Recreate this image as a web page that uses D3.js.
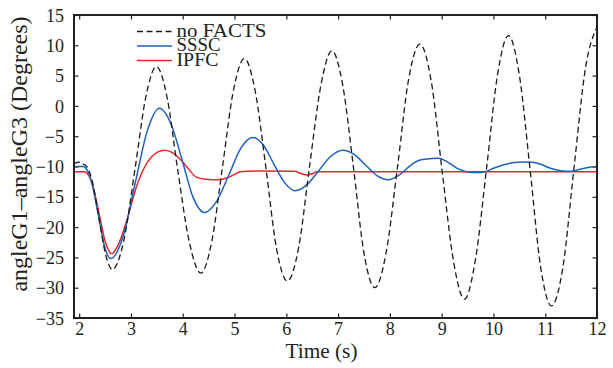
<!DOCTYPE html>
<html>
<head>
<meta charset="utf-8">
<script src="https://cdn.jsdelivr.net/npm/d3@7"></script>
<style>
  html, body { margin: 0; padding: 0; background: #fff; }
  svg { display: block; }
  text { font-family: "Liberation Serif", "Times New Roman", serif; fill: #231f20; }
</style>
</head>
<body>
<svg id="chart" width="613" height="368"></svg>
<script>
// ---- data ----
const xTicks = [2, 3, 4, 5, 6, 7, 8, 9, 10, 11, 12];
const yTicks = [-35, -30, -25, -20, -15, -10, -5, 0, 5, 10, 15];
const seriesNames = ["no FACTS", "SSSC", "IPFC"];

const noFactsT = [1.90, 2.00, 2.06, 2.12, 2.25, 2.38, 2.51, 2.64, 2.86, 3.08, 3.29, 3.49, 3.70, 3.90, 4.13, 4.35,
  4.56, 4.77, 4.98, 5.19, 5.40, 5.61, 5.81, 6.02, 6.24, 6.45, 6.67, 6.88, 7.09, 7.30, 7.50, 7.71,
  7.93, 8.15, 8.36, 8.58, 8.80, 9.01, 9.23, 9.44, 9.65, 9.87, 10.08, 10.29, 10.50, 10.71, 10.91, 11.12,
  11.34, 11.56, 11.78, 12.00];
const noFactsV = [-9.5, -9.3, -9.6, -9.8, -12.3, -18.4, -24.5, -27.0, -22.3, -10.3, 1.6, 6.5, 1.3, -10.4, -22.6, -27.6,
  -22.4, -9.9, 2.6, 7.8, 2.4, -10.5, -23.5, -28.9, -23.3, -9.9, 3.5, 9.1, 3.4, -10.4, -24.3, -30.0,
  -24.1, -9.9, 4.3, 10.2, 4.0, -10.8, -25.7, -31.9, -25.5, -10.1, 5.2, 11.6, 5.1, -10.7, -26.5, -33.0,
  -26.7, -9.9, 6.4, 13.0];

const ssscT = [1.90, 2.08, 2.13, 2.24, 2.37, 2.49, 2.61, 2.85, 3.08, 3.32, 3.55, 3.77, 3.99, 4.20, 4.42,
  4.65, 4.89, 5.12, 5.35, 5.56, 5.76, 5.97, 6.17, 6.40, 6.63, 6.86, 7.09, 7.31, 7.53, 7.75, 7.97,
  8.20, 8.40, 8.60, 8.80, 8.94, 9.10, 9.30, 9.50, 9.65, 9.85, 10.00, 10.20, 10.40, 10.60, 10.75, 10.90,
  11.10, 11.30, 11.50, 11.65, 11.80, 12.00];
const ssscV = [-10.0, -10.0, -10.3, -12.6, -18.0, -23.2, -25.2, -21.5, -12.8, -4.0, -0.4, -2.9, -9.0, -15.1, -17.6,
  -15.8, -11.4, -7.0, -5.2, -6.5, -9.6, -12.7, -14.0, -13.0, -10.65, -8.3, -7.3, -8.0, -9.75, -11.5, -12.2,
  -11.3, -9.8, -8.9, -8.7, -8.65, -9.2, -10.3, -10.9, -11.0, -10.85, -10.3, -9.7, -9.35, -9.25, -9.3, -9.6,
  -10.3, -10.7, -10.8, -10.5, -10.2, -10.0];

const ipfcT = [1.90, 2.10, 2.14, 2.25, 2.38, 2.51, 2.63, 2.75, 2.92, 3.10, 3.27, 3.40, 3.52, 3.65, 3.80, 3.95,
  4.10, 4.27, 4.45, 4.66, 4.85, 5.00, 5.11, 5.40, 6.15, 6.30, 6.40, 6.50, 6.59, 12.00];
const ipfcV = [-10.85, -10.85, -11.0, -12.8, -17.6, -22.6, -24.4, -23.0, -18.9, -13.5, -10.0, -8.4, -7.6, -7.3, -7.7, -8.8,
  -10.3, -11.8, -12.1, -12.2, -11.9, -11.3, -10.85, -10.75, -10.8, -11.2, -11.4, -11.2, -10.85, -10.85];

// ---- layout ----
const L = 74, R = 597, T = 15, B = 318;
const svg = d3.select("#chart");
const x = d3.scaleLinear().domain([1.9, 12]).range([L, R]);
const y = d3.scaleLinear().domain([-35, 15]).range([B, T]);

svg.append("defs").append("clipPath").attr("id", "clip")
  .append("rect").attr("x", L).attr("y", T).attr("width", R - L).attr("height", B - T);

// axes with inward ticks
const tickLen = 4.5;
const gB = svg.append("g").attr("transform", `translate(0,${B})`)
  .call(d3.axisBottom(x).tickValues(xTicks).tickSizeInner(-tickLen).tickSizeOuter(0).tickPadding(9).tickFormat(d3.format("d")));
const gT = svg.append("g").attr("transform", `translate(0,${T})`)
  .call(d3.axisTop(x).tickValues(xTicks).tickSizeInner(-tickLen).tickSizeOuter(0).tickFormat(""));
const gL = svg.append("g").attr("transform", `translate(${L},0)`)
  .call(d3.axisLeft(y).tickValues(yTicks).tickSizeInner(-tickLen).tickSizeOuter(0).tickPadding(10)
    .tickFormat(d => d < 0 ? "\u2212" + Math.abs(d) : d));
const gR = svg.append("g").attr("transform", `translate(${R},0)`)
  .call(d3.axisRight(y).tickValues(yTicks).tickSizeInner(-tickLen).tickSizeOuter(0).tickFormat(""));

[gB, gT, gL, gR].forEach(g => {
  g.select(".domain").remove();
  g.selectAll(".tick line").attr("stroke", "#231f20").attr("stroke-width", 1.2);
  g.selectAll("text").attr("fill", "#231f20").style("font-size", "18px")
    .style("font-family", "'Liberation Serif', 'Times New Roman', serif");
});
gB.selectAll("text").attr("dy", null).attr("y", null).attr("transform", "translate(0,17)");
gL.selectAll("text").attr("dy", "0.34em");

// series
const mk = (ts, vs) => ts.map((t, i) => [t, vs[i]]);
const line = d3.line().x(d => x(d[0])).y(d => y(d[1])).curve(d3.curveMonotoneX);
const plot = svg.append("g").attr("clip-path", "url(#clip)");

plot.append("path").datum(mk(ipfcT, ipfcV)).attr("d", line)
  .attr("fill", "none").attr("stroke", "#e8262b").attr("stroke-width", 1.5);
plot.append("path").datum(mk(ssscT, ssscV)).attr("d", line)
  .attr("fill", "none").attr("stroke", "#2060bd").attr("stroke-width", 1.5);
plot.append("path").datum(mk(noFactsT, noFactsV)).attr("d", line)
  .attr("fill", "none").attr("stroke", "#1a1a1a").attr("stroke-width", 1.3).attr("stroke-dasharray", "6,3.5");

// frame
svg.append("rect").attr("x", L).attr("y", T).attr("width", R - L).attr("height", B - T)
  .attr("fill", "none").attr("stroke", "#231f20").attr("stroke-width", 2);

// legend
const legColors = ["#1a1a1a", "#2060bd", "#e8262b"];
const legDash = ["6,3.5", null, null];
const legWidths = [90, 44, 42];
const leg = svg.append("g");
seriesNames.forEach((n, i) => {
  const by = 36.5 + i * 14.5;
  leg.append("line").attr("x1", 137).attr("x2", 172).attr("y1", by - 5).attr("y2", by - 5)
    .attr("stroke", legColors[i]).attr("stroke-width", 1.4).attr("stroke-dasharray", legDash[i]);
  leg.append("text").attr("x", 176.5).attr("y", by).text(n)
    .style("font-size", "19px").attr("textLength", legWidths[i]).attr("lengthAdjust", "spacingAndGlyphs");
});

// axis titles
svg.append("text").attr("x", (L + R) / 2 - 14).attr("y", 358).attr("text-anchor", "middle")
  .style("font-size", "20px").attr("textLength", 72).attr("lengthAdjust", "spacingAndGlyphs").text("Time (s)");
svg.append("text").attr("transform", "translate(27,154) rotate(-90)").attr("text-anchor", "middle")
  .style("font-size", "24px").text("angleG1\u2013angleG3 (Degrees)");
</script>
</body>
</html>
